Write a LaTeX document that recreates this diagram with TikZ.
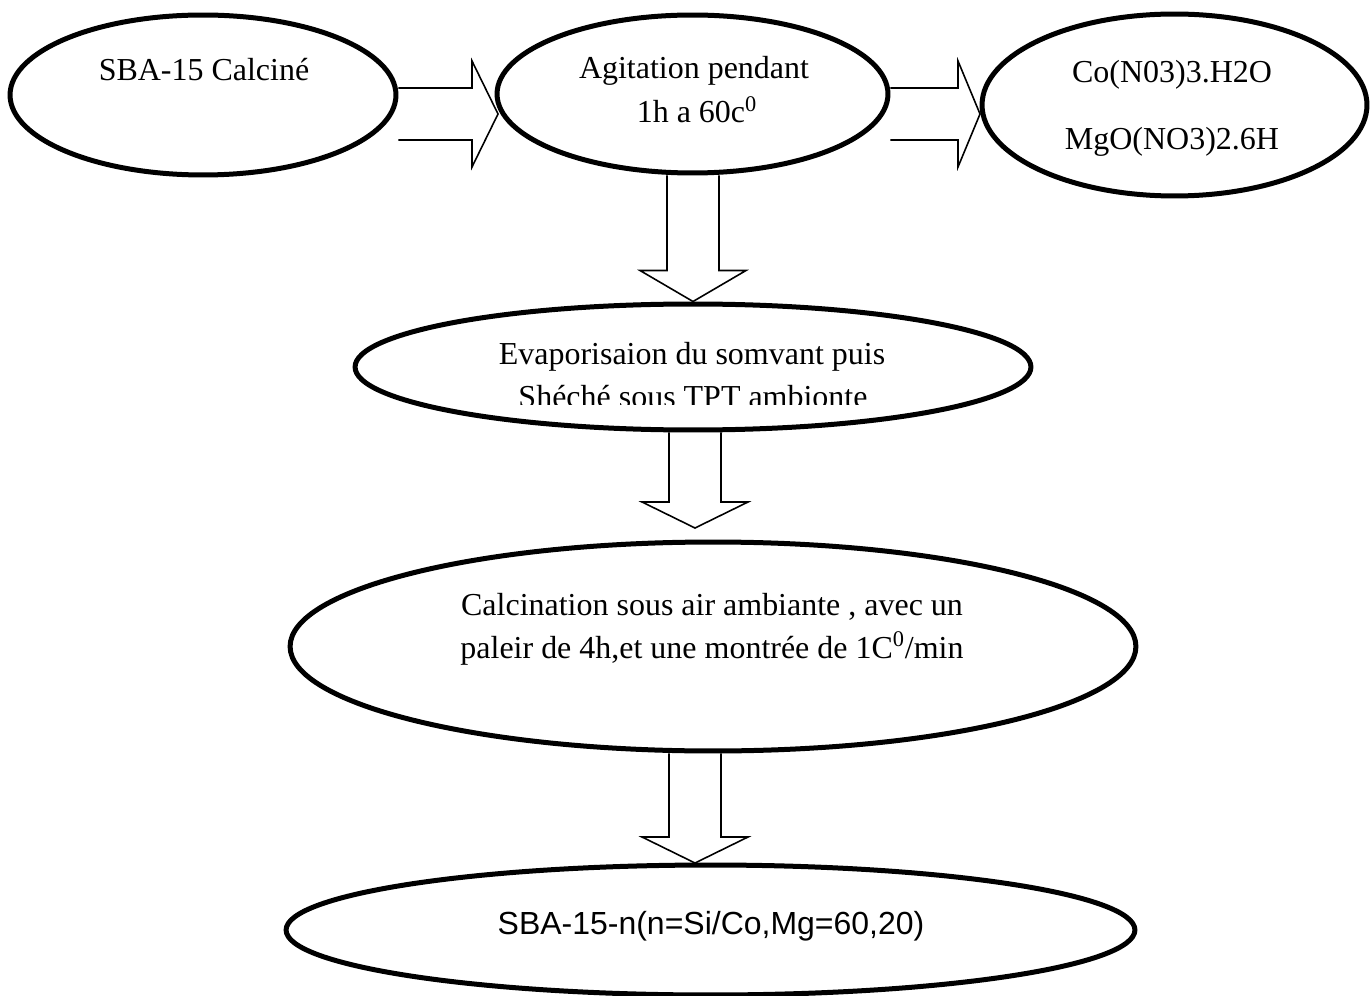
\documentclass[tikz,border=0pt]{standalone}
\usepackage{fontspec}
\setmainfont{Liberation Serif}
\newfontfamily\arialfont{Liberation Sans}
\usetikzlibrary{calc, shapes.geometric}

\begin{document}
\begin{tikzpicture}[x=0.02cm, y=-0.02cm,
    etape node/.style={draw, ellipse, line width=0.1cm, inner sep=0pt},
    texte node/.style={anchor=base, inner sep=0pt, font=\fontsize{18.2}{24}\selectfont},
    bloc fleche/.style={draw, line width=0.9pt, line join=miter}]
    \useasboundingbox (0,0) rectangle (1371,996);

    \node[etape node, minimum width=7.72cm, minimum height=3.2cm] (sba) at (203,95) {};
    \node[etape node, minimum width=7.82cm, minimum height=3.16cm] (agitation) at (692.5,94) {};
    \node[etape node, minimum width=7.7cm, minimum height=3.64cm] (precurseurs) at (1174.5,105) {};

    \node[etape node, minimum width=13.52cm, minimum height=2.52cm] (evaporation) at (693,367) {};
    \node[etape node, minimum width=16.92cm, minimum height=4.18cm] (calcination) at (713,646.5) {};
    \node[etape node, minimum width=16.98cm, minimum height=2.6cm] (produit) at (710.5,930) {};

    % textes
    \node[texte node] (t sba) at (204,80.7) {SBA-15 Calciné};
    \node[texte node] (t agitation a) at (694,79) {Agitation pendant};
    \node[texte node] (t agitation b) at (697,122.7) {1h a 60c\textsuperscript{0}};
    \node[texte node] (t precurseurs a) at (1172,82.7) {Co(N03)3.H2O};
    \node[texte node] (t precurseurs b) at (1172,150) {MgO(NO3)2.6H};
    \node[texte node] (t evaporation a) at (692,365) {Evaporisaion du somvant puis};
    \begin{scope}
        \clip (340,380) rectangle (1050,404);
        \node[texte node] (t evaporation b) at (693,407) {Shéché sous TPT ambionte};
    \end{scope}
    \node[texte node] (t calcination a) at (712,615) {Calcination sous air ambiante , avec un};
    \node[texte node] (t calcination b) at (712,658) {paleir de 4h,et une montrée de 1C\textsuperscript{0}/min};
    \node[texte node, font=\arialfont\fontsize{18.2}{24}\selectfont] (t produit) at (711,934) {SBA-15-n(n=Si/Co,Mg=60,20)};

    % fleches
    \coordinate (pointe1) at (498,114);
    \coordinate (pointe2) at (980,114);
    \coordinate (pointe4) at (695,528);
    \coordinate (pointe5) at (695,863);

    \draw[bloc fleche] ($(pointe1 -| sba.east)+(0,-26)$) -- ($(pointe1)+(-26,-26)$) -- ($(pointe1)+(-26,-53)$) -- (pointe1)
        -- ($(pointe1)+(-26,53)$) -- ($(pointe1)+(-26,26)$) -- ($(pointe1 -| sba.east)+(0,26)$);
    \draw[bloc fleche] ($(pointe2 -| agitation.east)+(0,-26)$) -- ($(pointe2)+(-22,-26)$) -- ($(pointe2)+(-22,-53)$) -- (pointe2)
        -- ($(pointe2)+(-22,53)$) -- ($(pointe2)+(-22,26)$) -- ($(pointe2 -| agitation.east)+(0,26)$);
    \draw[bloc fleche] ($(evaporation.north |- agitation.south)+(-26,0)$) -- ($(evaporation.north)+(-26,-31)$) -- ($(evaporation.north)+(-53,-31)$) -- (evaporation.north)
        -- ($(evaporation.north)+(53,-31)$) -- ($(evaporation.north)+(26,-31)$) -- ($(evaporation.north |- agitation.south)+(26,0)$);
    \draw[bloc fleche] ($(pointe4 |- evaporation.south)+(-26,0)$) -- ($(pointe4)+(-26,-26)$) -- ($(pointe4)+(-53,-26)$) -- (pointe4)
        -- ($(pointe4)+(53,-26)$) -- ($(pointe4)+(26,-26)$) -- ($(pointe4 |- evaporation.south)+(26,0)$);
    \draw[bloc fleche] ($(pointe5 |- calcination.south)+(-26,0)$) -- ($(pointe5)+(-26,-26)$) -- ($(pointe5)+(-53,-26)$) -- (pointe5)
        -- ($(pointe5)+(53,-26)$) -- ($(pointe5)+(26,-26)$) -- ($(pointe5 |- calcination.south)+(26,0)$);
\end{tikzpicture}
\end{document}
